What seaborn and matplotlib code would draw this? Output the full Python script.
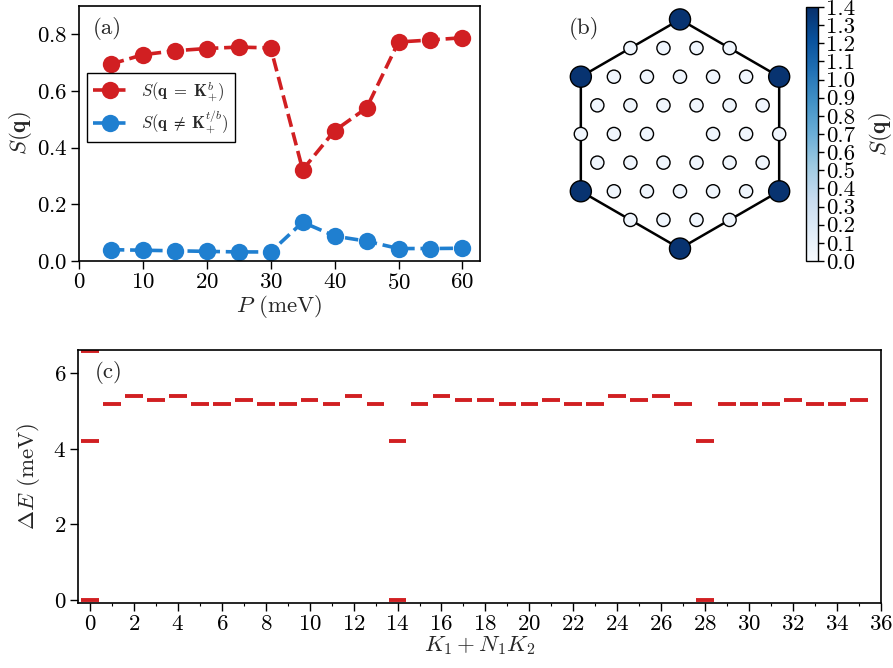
import numpy as np
import pandas as pd
import matplotlib
matplotlib.use("Agg")
import matplotlib.pyplot as plt
import seaborn as sns

# --- data ---
P = [5, 10, 15, 20, 25, 30, 35, 40, 45, 50, 55, 60]
S_K = [0.695, 0.728, 0.742, 0.750, 0.755, 0.752, 0.322, 0.460, 0.540, 0.773, 0.780, 0.788]
S_other = [0.040, 0.038, 0.036, 0.034, 0.032, 0.032, 0.137, 0.088, 0.070, 0.044, 0.044, 0.045]

# panel (b): lattice rows (row index, column positions in units of a/2) and S(q) values
lattice_rows = [4, 3, 2, 1, 0, -1, -2, -3, -4]
lattice_cols = [
    [0],
    [-3, -1, 1, 3],
    [-6, -4, -2, 0, 2, 4, 6],
    [-5, -3, -1, 1, 3, 5],
    [-6, -4, -2, 2, 4, 6],
    [-5, -3, -1, 1, 3, 5],
    [-6, -4, -2, 0, 2, 4, 6],
    [-3, -1, 1, 3],
    [0],
]
lattice_S = [
    [1.38],
    [0.05, 0.05, 0.05, 0.05],
    [1.38, 0.05, 0.05, 0.05, 0.05, 0.05, 1.38],
    [0.05, 0.05, 0.05, 0.05, 0.05, 0.05],
    [0.05, 0.05, 0.05, 0.05, 0.05, 0.05],
    [0.05, 0.05, 0.05, 0.05, 0.05, 0.05],
    [1.38, 0.05, 0.05, 0.05, 0.05, 0.05, 1.38],
    [0.05, 0.05, 0.05, 0.05],
    [1.38],
]

# panel (c): energy levels per momentum sector
k_sector = list(range(36))
levels = [
    [0.0, 4.2, 6.6], [5.2], [5.4], [5.3], [5.4], [5.2], [5.2], [5.3], [5.2], [5.2],
    [5.3], [5.2], [5.4], [5.2], [0.0, 4.2], [5.2], [5.4], [5.3], [5.3], [5.2],
    [5.2], [5.3], [5.2], [5.2], [5.4], [5.3], [5.4], [5.2], [0.0, 4.2], [5.2],
    [5.2], [5.2], [5.3], [5.2], [5.2], [5.3],
]

RED = "#d11f22"
BLUE = "#1f7fd0"
FS = 16.5

sns.set_theme(style="ticks")
plt.rcParams.update({
    "font.family": "serif",
    "font.serif": ["cmr10"],
    "mathtext.fontset": "cm",
    "axes.formatter.use_mathtext": True,
    "axes.unicode_minus": False,
    "font.size": FS,
    "axes.labelsize": FS,
    "xtick.labelsize": FS,
    "ytick.labelsize": FS,
    "axes.edgecolor": "black",
    "axes.linewidth": 1.2,
    "xtick.color": "black",
    "ytick.color": "black",
    "xtick.major.width": 1.0,
    "ytick.major.width": 1.0,
    "xtick.major.pad": 2.5,
    "ytick.major.pad": 2.5,
})

fig = plt.figure(figsize=(8.93, 6.68), dpi=100)
W, H = 893, 668

def box(l, t, r, b):
    return [l / W, (H - b) / H, (r - l) / W, (b - t) / H]

# --- (a) ---
ax_a = fig.add_axes(box(79, 6, 480, 261))
df_a = pd.DataFrame({"P": P, "SK": S_K, "SO": S_other})
sns.lineplot(data=df_a, x="P", y="SK", ax=ax_a, color=RED, linestyle="--", lw=2.6,
             marker="o", markersize=12.5, markeredgewidth=0,
             label=r"$S(\mathbf{q}\;=\;\mathbf{K}_{+}^{b})$")
sns.lineplot(data=df_a, x="P", y="SO", ax=ax_a, color=BLUE, linestyle="--", lw=2.6,
             marker="o", markersize=12.5, markeredgewidth=0,
             label=r"$S(\mathbf{q}\;\neq\;\mathbf{K}_{+}^{t/b})$")
ax_a.set_xlim(0, 62.75)
ax_a.set_ylim(0, 0.9)
ax_a.set_xticks([0, 10, 20, 30, 40, 50, 60])
ax_a.set_yticks([0.0, 0.2, 0.4, 0.6, 0.8])
ax_a.set_xlabel(r"$P$ (meV)", labelpad=0)
ax_a.set_ylabel(r"$S(\mathbf{q})$", labelpad=2)
ax_a.text(0.035, 0.91, "(a)", transform=ax_a.transAxes, fontsize=FS, va="center")
leg = ax_a.legend(loc="upper left", bbox_to_anchor=(0.02, 0.737), borderaxespad=0,
                  fontsize=12, frameon=True, fancybox=False, edgecolor="black",
                  framealpha=1, handlelength=2.0, borderpad=0.35, labelspacing=0.3,
                  handletextpad=0.9)
leg.get_frame().set_linewidth(1.0)

# --- (b) ---
ax_b = fig.add_axes(box(560, 6, 800, 261))
a = 1.0
pts = []
for r, cols, vals in zip(lattice_rows, lattice_cols, lattice_S):
    for c, v in zip(cols, vals):
        pts.append((c * a / 2, r * a * np.sqrt(3) / 2, v))
df_b = pd.DataFrame(pts, columns=["x", "y", "S"])
df_b["big"] = df_b["S"] > 0.7

hex_x = [0, 3, 3, 0, -3, -3, 0]
hex_y = [2 * np.sqrt(3), np.sqrt(3), -np.sqrt(3), -2 * np.sqrt(3), -np.sqrt(3), np.sqrt(3), 2 * np.sqrt(3)]
ax_b.plot(hex_x, hex_y, color="black", lw=1.8, zorder=1)

cmap = plt.get_cmap("Blues")
norm = plt.Normalize(0, 1.4)
small = df_b[~df_b["big"]]
big = df_b[df_b["big"]]
sns.scatterplot(data=small, x="x", y="y", hue="S", palette=cmap, hue_norm=norm,
                s=90, edgecolor="black", linewidth=1.0, legend=False, ax=ax_b, zorder=3)
sns.scatterplot(data=big, x="x", y="y", hue="S", palette=cmap, hue_norm=norm,
                s=230, edgecolor="black", linewidth=1.0, legend=False, ax=ax_b, zorder=3)
ax_b.set_xlim(-3.63, 3.63)
ax_b.set_ylim(-3.84, 3.87)
ax_b.axis("off")
ax_b.text(0.035, 0.91, "(b)", transform=ax_b.transAxes, fontsize=FS, va="center")

cax = fig.add_axes(box(806, 7, 818, 261))
sm = plt.cm.ScalarMappable(cmap=cmap, norm=norm)
cb_ticks = np.round(np.arange(0, 1.41, 0.1), 1)
cb = fig.colorbar(sm, cax=cax, ticks=cb_ticks)
cb.ax.set_yticklabels([f"{t:.1f}" for t in cb_ticks])
cb.ax.tick_params(labelsize=FS, width=1.0, length=4, pad=2)
cb.outline.set_edgecolor("black")
cb.outline.set_linewidth(1.0)
cb.set_label(r"$S(\mathbf{q})$", fontsize=FS, labelpad=8)

# --- (c) ---
ax_c = fig.add_axes(box(78, 350, 880.7, 603))
xs, ys = [], []
for k, lv in zip(k_sector, levels):
    for e in lv:
        xs.append(k)
        ys.append(e)
xs = np.array(xs)
ax_c.hlines(ys, xs - 0.4, xs + 0.4, color=RED, lw=2.8)
ax_c.set_xlim(-0.55, 36)
ax_c.set_ylim(-0.08, 6.62)
ax_c.set_xticks(np.arange(0, 37, 2))
ax_c.set_xticks(np.arange(0, 37, 1), minor=True)
ax_c.set_yticks([0, 2, 4, 6])
ax_c.tick_params(which="minor", length=2.5, width=0.8)
ax_c.set_xlabel(r"$K_1+N_1K_2$", labelpad=0)
ax_c.set_ylabel(r"$\Delta E$ (meV)", labelpad=8)
ax_c.text(0.021, 0.91, "(c)", transform=ax_c.transAxes, fontsize=FS, va="center")

fig.savefig("out.png", dpi=100)
